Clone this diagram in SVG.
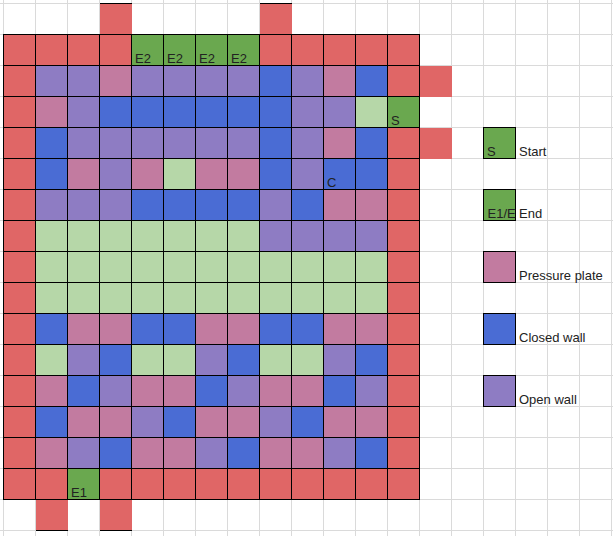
<svg xmlns="http://www.w3.org/2000/svg" xmlns:xlink="http://www.w3.org/1999/xlink" width="613" height="536" viewBox="0 0 613 536">
<style>
.r{fill:#e06666}.g{fill:#6aa84f}.lg{fill:#b6d7a8}.b{fill:#4a6cd4}.p{fill:#8e7cc3}.k{fill:#c27ba0}
.t{font-family:"Liberation Sans",Arial,sans-serif;font-size:13px;fill:#222}
.grid{stroke:#dadada;stroke-width:1;fill:none}
.bl{stroke:#000;stroke-width:1;fill:none}
</style>
<defs><rect id="c" width="32" height="31"/></defs>
<rect width="613" height="536" fill="#fff"/>
<path class="grid" d="M3.5 0V536M35.5 0V536M67.5 0V536M99.5 0V536M131.5 0V536M163.5 0V536M195.5 0V536M227.5 0V536M259.5 0V536M291.5 0V536M323.5 0V536M355.5 0V536M387.5 0V536M419.5 0V536M451.5 0V536M483.5 0V536M515.5 0V536M547.5 0V536M579.5 0V536M611.5 0V536M0 3.5H613M0 34.5H613M0 65.5H613M0 96.5H613M0 127.5H613M0 158.5H613M0 189.5H613M0 220.5H613M0 251.5H613M0 282.5H613M0 313.5H613M0 344.5H613M0 375.5H613M0 406.5H613M0 437.5H613M0 468.5H613M0 499.5H613M0 530.5H613"/>
<g id="maze">
<g id="row0"><use href="#c" x="100" y="4" class="r"/><use href="#c" x="260" y="4" class="r"/></g>
<g id="row1"><rect x="4" y="35" width="128" height="31" class="r"/><rect x="132" y="35" width="128" height="31" class="g"/><rect x="260" y="35" width="160" height="31" class="r"/></g>
<g id="row2"><use href="#c" x="4" y="66" class="r"/><rect x="36" y="66" width="64" height="31" class="p"/><use href="#c" x="100" y="66" class="k"/><rect x="132" y="66" width="128" height="31" class="p"/><use href="#c" x="260" y="66" class="b"/><use href="#c" x="292" y="66" class="p"/><use href="#c" x="324" y="66" class="k"/><use href="#c" x="356" y="66" class="b"/><rect x="388" y="66" width="64" height="31" class="r"/></g>
<g id="row3"><use href="#c" x="4" y="97" class="r"/><use href="#c" x="36" y="97" class="k"/><use href="#c" x="68" y="97" class="p"/><rect x="100" y="97" width="192" height="31" class="b"/><rect x="292" y="97" width="64" height="31" class="p"/><use href="#c" x="356" y="97" class="lg"/><use href="#c" x="388" y="97" class="g"/></g>
<g id="row4"><use href="#c" x="4" y="128" class="r"/><use href="#c" x="36" y="128" class="b"/><rect x="68" y="128" width="192" height="31" class="p"/><use href="#c" x="260" y="128" class="b"/><use href="#c" x="292" y="128" class="p"/><use href="#c" x="324" y="128" class="k"/><use href="#c" x="356" y="128" class="b"/><rect x="388" y="128" width="64" height="31" class="r"/></g>
<g id="row5"><use href="#c" x="4" y="159" class="r"/><use href="#c" x="36" y="159" class="b"/><use href="#c" x="68" y="159" class="k"/><use href="#c" x="100" y="159" class="p"/><use href="#c" x="132" y="159" class="k"/><use href="#c" x="164" y="159" class="lg"/><rect x="196" y="159" width="64" height="31" class="k"/><use href="#c" x="260" y="159" class="b"/><use href="#c" x="292" y="159" class="p"/><rect x="324" y="159" width="64" height="31" class="b"/><use href="#c" x="388" y="159" class="r"/></g>
<g id="row6"><use href="#c" x="4" y="190" class="r"/><rect x="36" y="190" width="96" height="31" class="p"/><rect x="132" y="190" width="128" height="31" class="b"/><use href="#c" x="260" y="190" class="p"/><use href="#c" x="292" y="190" class="b"/><rect x="324" y="190" width="64" height="31" class="k"/><use href="#c" x="388" y="190" class="r"/></g>
<g id="row7"><use href="#c" x="4" y="221" class="r"/><rect x="36" y="221" width="224" height="31" class="lg"/><rect x="260" y="221" width="128" height="31" class="p"/><use href="#c" x="388" y="221" class="r"/></g>
<g id="row8-9"><rect x="4" y="252" width="32" height="62" class="r"/><rect x="36" y="252" width="352" height="62" class="lg"/><rect x="388" y="252" width="32" height="62" class="r"/></g>
<g id="row10"><use href="#c" x="4" y="314" class="r"/><use href="#c" x="36" y="314" class="b"/><rect x="68" y="314" width="64" height="31" class="k"/><rect x="132" y="314" width="64" height="31" class="b"/><rect x="196" y="314" width="64" height="31" class="k"/><rect x="260" y="314" width="64" height="31" class="b"/><rect x="324" y="314" width="64" height="31" class="k"/><use href="#c" x="388" y="314" class="r"/></g>
<g id="row11"><use href="#c" x="4" y="345" class="r"/><use href="#c" x="36" y="345" class="lg"/><use href="#c" x="68" y="345" class="p"/><use href="#c" x="100" y="345" class="b"/><rect x="132" y="345" width="64" height="31" class="lg"/><use href="#c" x="196" y="345" class="p"/><use href="#c" x="228" y="345" class="b"/><rect x="260" y="345" width="64" height="31" class="lg"/><use href="#c" x="324" y="345" class="p"/><use href="#c" x="356" y="345" class="b"/><use href="#c" x="388" y="345" class="r"/></g>
<g id="row12"><use href="#c" x="4" y="376" class="r"/><use href="#c" x="36" y="376" class="k"/><use href="#c" x="68" y="376" class="b"/><use href="#c" x="100" y="376" class="p"/><rect x="132" y="376" width="64" height="31" class="k"/><use href="#c" x="196" y="376" class="b"/><use href="#c" x="228" y="376" class="p"/><rect x="260" y="376" width="64" height="31" class="k"/><use href="#c" x="324" y="376" class="b"/><use href="#c" x="356" y="376" class="p"/><use href="#c" x="388" y="376" class="r"/></g>
<g id="row13"><use href="#c" x="4" y="407" class="r"/><use href="#c" x="36" y="407" class="b"/><rect x="68" y="407" width="64" height="31" class="k"/><use href="#c" x="132" y="407" class="p"/><use href="#c" x="164" y="407" class="b"/><rect x="196" y="407" width="64" height="31" class="k"/><use href="#c" x="260" y="407" class="p"/><use href="#c" x="292" y="407" class="b"/><rect x="324" y="407" width="64" height="31" class="k"/><use href="#c" x="388" y="407" class="r"/></g>
<g id="row14"><use href="#c" x="4" y="438" class="r"/><use href="#c" x="36" y="438" class="k"/><use href="#c" x="68" y="438" class="p"/><use href="#c" x="100" y="438" class="b"/><rect x="132" y="438" width="64" height="31" class="k"/><use href="#c" x="196" y="438" class="p"/><use href="#c" x="228" y="438" class="b"/><rect x="260" y="438" width="64" height="31" class="k"/><use href="#c" x="324" y="438" class="p"/><use href="#c" x="356" y="438" class="b"/><use href="#c" x="388" y="438" class="r"/></g>
<g id="row15"><rect x="4" y="469" width="64" height="31" class="r"/><use href="#c" x="68" y="469" class="g"/><rect x="100" y="469" width="320" height="31" class="r"/></g>
<g id="row16"><use href="#c" x="36" y="500" class="r"/><use href="#c" x="100" y="500" class="r"/></g>
<path class="bl" d="M3.5 34V500M35.5 34V500M67.5 34V500M99.5 34V500M131.5 34V500M163.5 34V500M195.5 34V500M227.5 34V500M259.5 34V500M291.5 34V500M323.5 34V500M355.5 34V500M387.5 34V500M419.5 34V500M3 34.5H420M3 65.5H420M3 96.5H420M3 127.5H420M3 158.5H420M3 189.5H420M3 220.5H420M3 251.5H420M3 282.5H420M3 313.5H420M3 344.5H420M3 375.5H420M3 406.5H420M3 437.5H420M3 468.5H420M3 499.5H420M100 3.5H132M260 3.5H292M36 530.5H68M100 530.5H132"/>
<g id="labels" class="t">
<text x="135" y="63">E2</text><text x="167" y="63">E2</text><text x="199" y="63">E2</text><text x="231" y="63">E2</text>
<text x="391" y="125">S</text>
<text x="327" y="187">C</text>
<text x="71" y="497">E1</text>
</g>
</g>
<g id="legend">
<g id="leg-start"><use href="#c" x="484" y="128" class="g"/><rect x="483.5" y="127.5" width="32" height="31" class="bl"/><text class="t" x="487" y="156">S</text><text class="t" x="519" y="156">Start</text></g>
<g id="leg-end"><use href="#c" x="484" y="190" class="g"/><rect x="483.5" y="189.5" width="32" height="31" class="bl"/><text class="t" x="487.5" y="218">E1/E</text><text class="t" x="519" y="218">End</text></g>
<g id="leg-plate"><use href="#c" x="484" y="252" class="k"/><rect x="483.5" y="251.5" width="32" height="31" class="bl"/><text class="t" x="519" y="280">Pressure plate</text></g>
<g id="leg-closed"><use href="#c" x="484" y="314" class="b"/><rect x="483.5" y="313.5" width="32" height="31" class="bl"/><text class="t" x="519" y="342">Closed wall</text></g>
<g id="leg-open"><use href="#c" x="484" y="376" class="p"/><rect x="483.5" y="375.5" width="32" height="31" class="bl"/><text class="t" x="519" y="404">Open wall</text></g>
</g>
</svg>
